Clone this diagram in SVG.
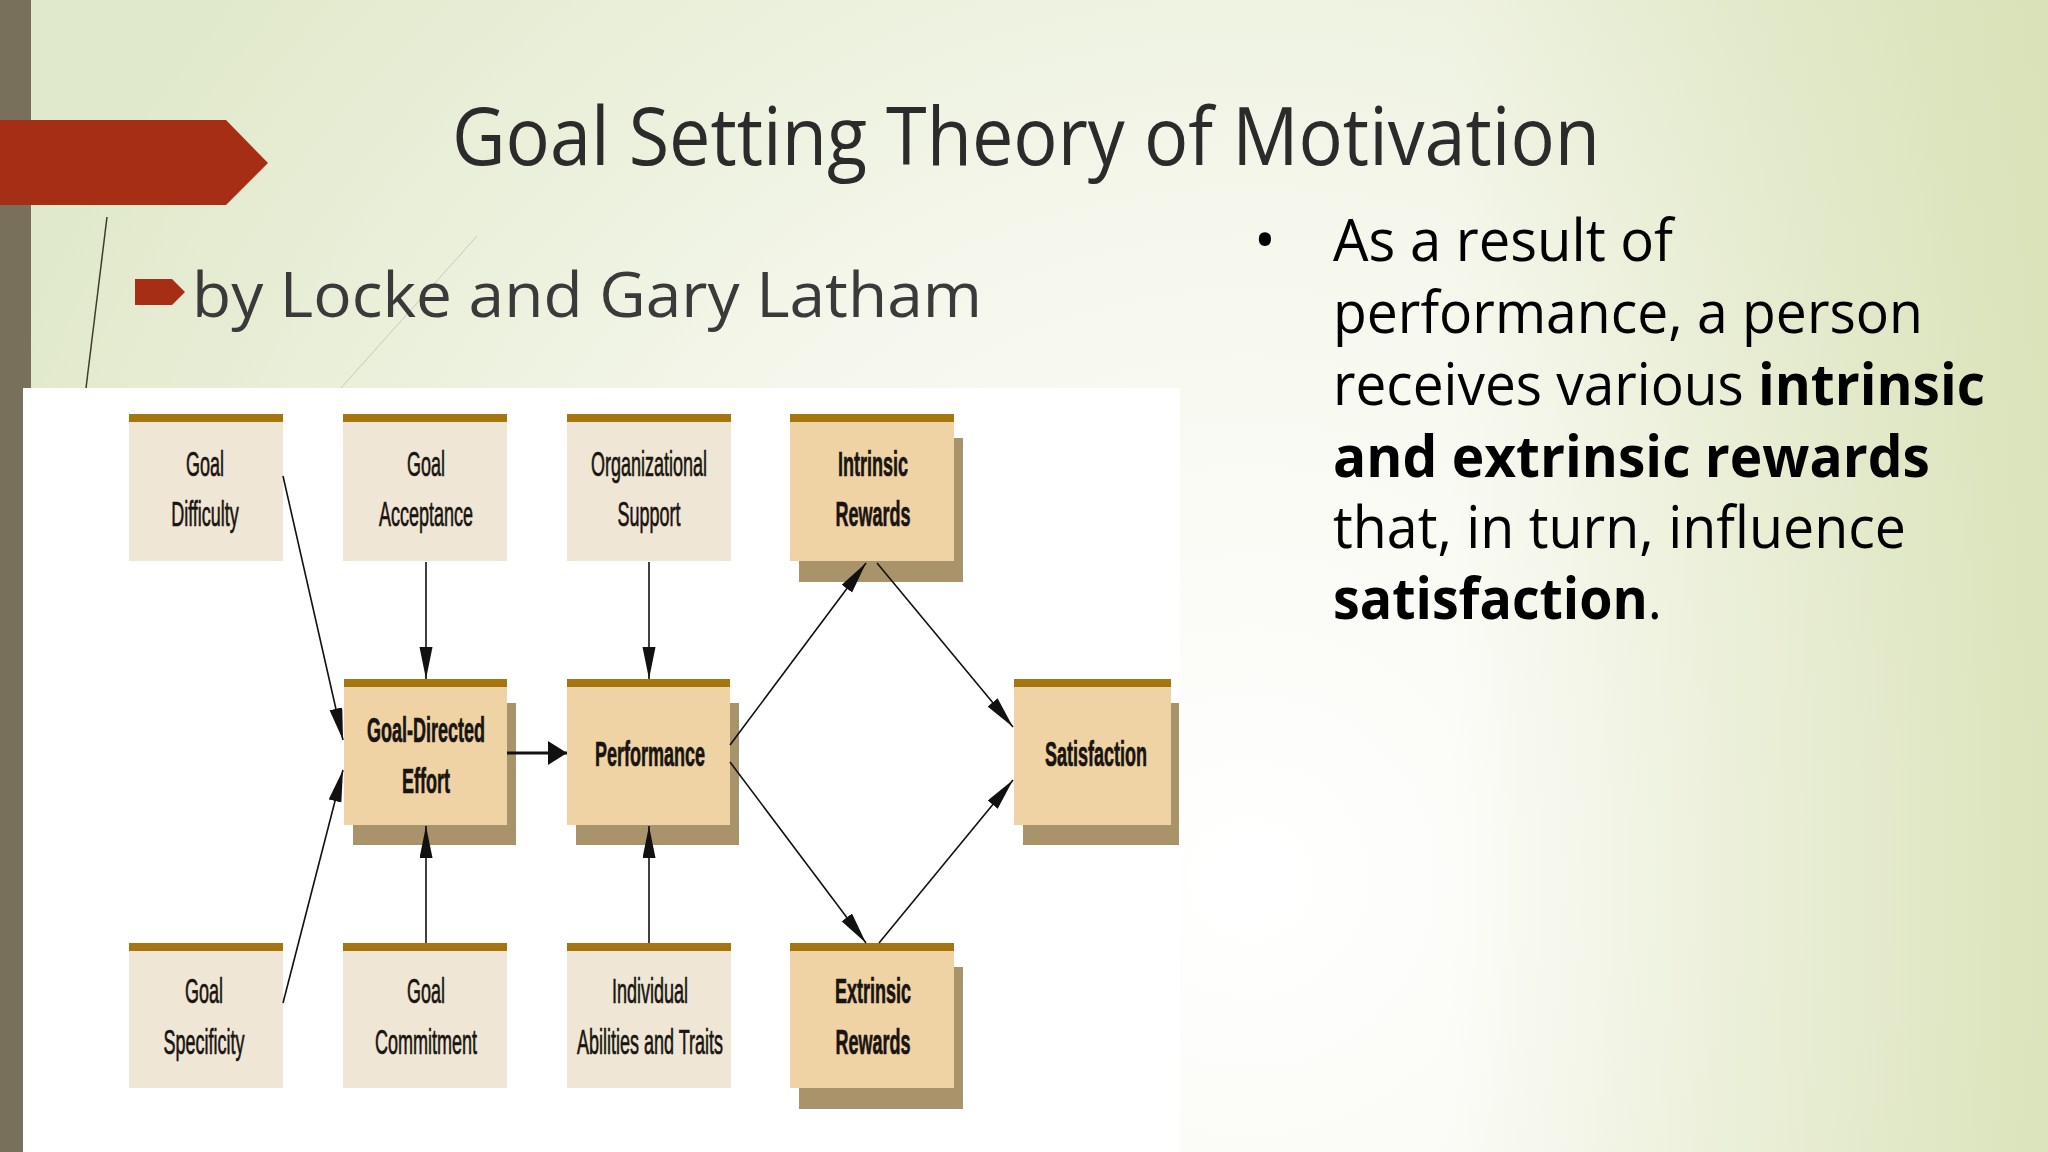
<svg xmlns="http://www.w3.org/2000/svg" width="2048" height="1152" viewBox="0 0 2048 1152">
<defs>
  <radialGradient id="bg" gradientUnits="userSpaceOnUse" cx="1250" cy="880" r="1350">
    <stop offset="0" stop-color="#FFFFFF"/>
    <stop offset="0.45" stop-color="#F6F8EE"/>
    <stop offset="1" stop-color="#E1E9CB"/>
  </radialGradient>
  <linearGradient id="bgR" gradientUnits="userSpaceOnUse" x1="1450" y1="0" x2="2048" y2="0">
    <stop offset="0" stop-color="#D4DEAE" stop-opacity="0"/>
    <stop offset="1" stop-color="#D4DEAE" stop-opacity="0.75"/>
  </linearGradient>
  <marker id="ah" markerUnits="userSpaceOnUse" markerWidth="34" markerHeight="14" refX="32" refY="6.5" orient="auto">
    <path d="M0,0 L32,6.5 L0,13 Z" fill="#111"/>
  </marker>
  <marker id="ahBold" markerUnits="userSpaceOnUse" markerWidth="20" markerHeight="24" refX="19" refY="12" orient="auto">
    <path d="M0,0 L19,12 L0,24 Z" fill="#111"/>
  </marker>
  <style>
    .lt { fill: #EFE6D6; }
    .mn { fill: #EFD3A5; }
    .bar { fill: #A5760F; }
    .sh { fill: #A8936A; }
    .lbl { font-family: "Liberation Sans", Arial, sans-serif; font-size: 36px; text-anchor: middle; fill: #1A1410; stroke: #1A1410; stroke-width: 0.7; }
    .b { font-weight: bold; }
    .conn { stroke: #111; stroke-width: 1.6; fill: none; marker-end: url(#ah); }
    .connB { stroke: #111; stroke-width: 3; fill: none; marker-end: url(#ahBold); }
    .slide { font-family: "Open Sans", "Noto Sans", "Liberation Sans", sans-serif; }
  </style>
</defs>

<!-- background -->
<rect x="0" y="0" width="2048" height="1152" fill="url(#bg)"/>
<rect x="0" y="0" width="2048" height="1152" fill="url(#bgR)"/>
<line x1="107" y1="217" x2="86" y2="388" stroke="#3D3D2E" stroke-width="1.5"/>
<line x1="477" y1="236" x2="341" y2="388" stroke="#C5CBB3" stroke-width="1"/>
<rect x="0" y="0" width="31" height="1152" fill="#78705A"/>
<path d="M0,120 H226 L268,163 L226,205 H0 Z" fill="#A52E15"/>

<!-- slide texts -->
<text class="slide" x="452" y="165" font-size="80" fill="#2B2B2B" textLength="1148" lengthAdjust="spacingAndGlyphs">Goal Setting Theory of Motivation</text>
<path d="M135,279 H172 L185,292 L172,305 H135 Z" fill="#A52E15"/>
<text class="slide" x="192" y="317" font-size="63" fill="#3A3A3A" textLength="790" lengthAdjust="spacingAndGlyphs">by Locke and Gary Latham</text>

<g class="slide" font-size="58" fill="#000">
  <text x="1254" y="261">•</text>
  <text x="1333" y="261" textLength="340" lengthAdjust="spacingAndGlyphs">As a result of</text>
  <text x="1333" y="333" textLength="590" lengthAdjust="spacingAndGlyphs">performance, a person</text>
  <text x="1333" y="405" textLength="652" lengthAdjust="spacingAndGlyphs">receives various <tspan font-weight="bold">intrinsic</tspan></text>
  <text x="1333" y="477" font-weight="bold" textLength="597" lengthAdjust="spacingAndGlyphs">and extrinsic rewards</text>
  <text x="1333" y="548" textLength="573" lengthAdjust="spacingAndGlyphs">that, in turn, influence</text>
  <text x="1333" y="619" textLength="329" lengthAdjust="spacingAndGlyphs"><tspan font-weight="bold">satisfaction</tspan>.</text>
</g>

<!-- diagram panel -->
<rect x="23" y="388" width="1157" height="764" fill="#FFFFFF"/>

<g id="goal-difficulty">
  <rect class="lt" x="129" y="414" width="154" height="147"/>
  <rect class="bar" x="129" y="414" width="154" height="8"/>
  <text class="lbl" transform="translate(205,0) scale(0.5,1)"><tspan x="0" y="476">Goal</tspan><tspan x="0" y="526">Difficulty</tspan></text>
</g>
<g id="goal-acceptance">
  <rect class="lt" x="343" y="414" width="164" height="147"/>
  <rect class="bar" x="343" y="414" width="164" height="8"/>
  <text class="lbl" transform="translate(426,0) scale(0.5,1)"><tspan x="0" y="476">Goal</tspan><tspan x="0" y="526">Acceptance</tspan></text>
</g>
<g id="organizational-support">
  <rect class="lt" x="567" y="414" width="164" height="147"/>
  <rect class="bar" x="567" y="414" width="164" height="8"/>
  <text class="lbl" transform="translate(649,0) scale(0.5,1)"><tspan x="0" y="476">Organizational</tspan><tspan x="0" y="526">Support</tspan></text>
</g>
<g id="intrinsic-rewards">
  <rect class="sh" x="799" y="438" width="164" height="144"/>
  <rect class="mn" x="790" y="414" width="164" height="147"/>
  <rect class="bar" x="790" y="414" width="164" height="8"/>
  <text class="lbl b" transform="translate(873,0) scale(0.5,1)"><tspan x="0" y="476">Intrinsic</tspan><tspan x="0" y="526">Rewards</tspan></text>
</g>
<g id="goal-directed-effort">
  <rect class="sh" x="353" y="703" width="163" height="142"/>
  <rect class="mn" x="344" y="679" width="163" height="146"/>
  <rect class="bar" x="344" y="679" width="163" height="8"/>
  <text class="lbl b" transform="translate(426,0) scale(0.5,1)"><tspan x="0" y="742">Goal-Directed</tspan><tspan x="0" y="793">Effort</tspan></text>
</g>
<g id="performance">
  <rect class="sh" x="576" y="703" width="163" height="142"/>
  <rect class="mn" x="567" y="679" width="163" height="146"/>
  <rect class="bar" x="567" y="679" width="163" height="8"/>
  <text class="lbl b" transform="translate(650,0) scale(0.5,1)"><tspan x="0" y="766">Performance</tspan></text>
</g>
<g id="satisfaction">
  <rect class="sh" x="1023" y="703" width="156" height="142"/>
  <rect class="mn" x="1014" y="679" width="157" height="146"/>
  <rect class="bar" x="1014" y="679" width="157" height="8"/>
  <text class="lbl b" transform="translate(1096,0) scale(0.5,1)"><tspan x="0" y="766">Satisfaction</tspan></text>
</g>
<g id="goal-specificity">
  <rect class="lt" x="129" y="943" width="154" height="145"/>
  <rect class="bar" x="129" y="943" width="154" height="8"/>
  <text class="lbl" transform="translate(204,0) scale(0.5,1)"><tspan x="0" y="1003">Goal</tspan><tspan x="0" y="1054">Specificity</tspan></text>
</g>
<g id="goal-commitment">
  <rect class="lt" x="343" y="943" width="164" height="145"/>
  <rect class="bar" x="343" y="943" width="164" height="8"/>
  <text class="lbl" transform="translate(426,0) scale(0.5,1)"><tspan x="0" y="1003">Goal</tspan><tspan x="0" y="1054">Commitment</tspan></text>
</g>
<g id="individual-abilities">
  <rect class="lt" x="567" y="943" width="164" height="145"/>
  <rect class="bar" x="567" y="943" width="164" height="8"/>
  <text class="lbl" transform="translate(650,0) scale(0.5,1)"><tspan x="0" y="1003">Individual</tspan><tspan x="0" y="1054">Abilities and Traits</tspan></text>
</g>
<g id="extrinsic-rewards">
  <rect class="sh" x="799" y="967" width="164" height="142"/>
  <rect class="mn" x="790" y="943" width="164" height="145"/>
  <rect class="bar" x="790" y="943" width="164" height="8"/>
  <text class="lbl b" transform="translate(873,0) scale(0.5,1)"><tspan x="0" y="1003">Extrinsic</tspan><tspan x="0" y="1054">Rewards</tspan></text>
</g>

<g id="connectors">
  <line class="conn" x1="283" y1="476" x2="343" y2="740"/>
  <line class="conn" x1="283" y1="1003" x2="343" y2="770"/>
  <line class="conn" x1="426" y1="562" x2="426" y2="679"/>
  <line class="conn" x1="649" y1="562" x2="649" y2="679"/>
  <line class="conn" x1="426" y1="943" x2="426" y2="826"/>
  <line class="conn" x1="649" y1="943" x2="649" y2="826"/>
  <line class="connB" x1="507" y1="753" x2="567" y2="753"/>
  <line class="conn" x1="730" y1="745" x2="866" y2="563"/>
  <line class="conn" x1="877" y1="563" x2="1013" y2="727"/>
  <line class="conn" x1="730" y1="762" x2="866" y2="943"/>
  <line class="conn" x1="879" y1="943" x2="1013" y2="780"/>
</g>
</svg>
